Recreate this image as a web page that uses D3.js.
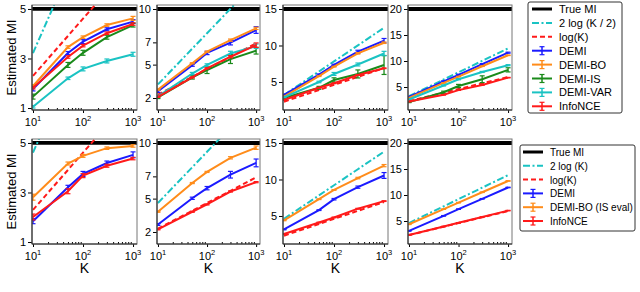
<!DOCTYPE html>
<html><head><meta charset="utf-8">
<script src="https://cdn.jsdelivr.net/npm/d3@7"></script>
<style>
body{margin:0;background:#fff}
svg{display:block}
text{font-family:"Liberation Sans",Arial,Helvetica,sans-serif;fill:#000}
</style>
</head><body>
<svg id="c" width="640" height="292"></svg>
<script>
// ---------------- DATA ----------------
const K = [10, 50, 100, 300, 1000];
const xMajorTicks = [10, 100, 1000];
const xMinorTicks = [20,30,40,50,60,70,80,90,200,300,400,500,600,700,800,900];
const trueMI = [5, 10, 15, 20];
const yTickValues = [[1,3,5],[2,5,7,10],[5,10,15],[5,10,15,20]];
const yDomains = [[0.92,5.16],[0.92,10.36],[1.16,15.55],[0.58,20.77]];

const bound2logKhalf = [3.22, 6.44, 7.82, 10.02, 12.43];
const boundLogK      = [2.30, 3.91, 4.61, 5.70, 6.91];
const bound2logK     = [4.61, 7.82, 9.21, 11.41, 13.82];

// top row (one list per panel)
const topDEMI = [
  [1.77, 3.22, 3.68, 4.18, 4.49],
  [2.60, 4.95, 6.05, 6.97, 8.11],
  [3.22, 6.00, 7.33, 9.15, 10.66],
  [3.10, 6.10, 7.35, 9.40, 11.60]];
const topDEMIBO = [
  [1.89, 3.46, 3.86, 4.35, 4.62],
  [2.75, 5.12, 6.16, 7.20, 8.26],
  [3.00, 5.80, 7.10, 8.93, 10.38],
  [2.90, 5.80, 7.00, 9.00, 11.10]];
const topDEMIIS = [
  [1.46, 2.74, 3.23, 3.86, 4.35],
  [2.05, 3.85, 4.50, 5.50, 6.25],
  [2.80, 4.20, 5.27, 6.10, 7.33],
  [2.10, 4.00, 5.20, 6.50, 8.30]];
const topDEMIVAR = [
  [1.05, 2.20, 2.58, 2.90, 3.17],
  [2.15, 4.20, 4.97, 6.00, 6.65],
  [2.90, 5.00, 6.10, 7.40, 8.90],
  [2.60, 5.30, 6.50, 7.90, 9.20]];
const topInfoNCE = [
  [1.82, 3.06, 3.52, 4.02, 4.39],
  [2.10, 3.85, 4.67, 5.71, 6.75],
  [2.53, 4.20, 4.82, 5.96, 6.88],
  [2.20, 3.50, 4.40, 5.40, 6.80]];

const topErrDEMI    = [[0.08,0.06,0.08,0.06,0.08],[0.1,0.1,0.15,0.2,0.3],[0.1,0.1,0.1,0.2,0.3],[0.1,0.1,0.1,0.1,0.1]];
const topErrDEMIBO  = [[0.05,0.05,0.05,0.05,0.08],[0.05,0.05,0.05,0.1,0.1],[0.05,0.05,0.05,0.1,0.1],[0.05,0.05,0.05,0.05,0.05]];
const topErrDEMIIS  = [[0.1,0.1,0.1,0.08,0.08],[0.1,0.15,0.3,0.4,0.3],[0.1,0.2,0.3,0.55,1.3],[0.1,0.2,0.3,0.65,0.4]];
const topErrDEMIVAR = [[0.05,0.05,0.08,0.08,0.08],[0.05,0.1,0.1,0.2,0.2],[0.05,0.1,0.2,0.2,0.3],[0.05,0.1,0.1,0.1,0.1]];
const topErrInfoNCE = [[0.05,0.05,0.05,0.05,0.05],[0.05,0.05,0.05,0.1,0.2],[0.05,0.05,0.05,0.05,0.05],[0.05,0.05,0.05,0.05,0.05]];

// bottom row
const botDEMI = [
  [1.84, 3.21, 3.75, 4.19, 4.52],
  [2.67, 5.03, 5.94, 7.15, 8.21],
  [3.15, 5.80, 7.30, 8.95, 10.55],
  [3.10, 6.00, 7.28, 9.27, 11.45]];
const botDEMIBO = [
  [2.81, 4.17, 4.48, 4.79, 4.88],
  [3.82, 6.40, 7.40, 8.67, 9.58],
  [4.40, 7.30, 8.57, 10.20, 11.90],
  [4.37, 7.28, 8.53, 10.53, 12.70]];
const botInfoNCE = [
  [2.01, 3.05, 3.68, 4.08, 4.37],
  [2.24, 3.82, 4.48, 5.64, 6.48],
  [2.54, 4.10, 4.80, 6.00, 7.04],
  [2.30, 3.94, 4.65, 5.77, 7.00]];
const botErrDEMI     = [[0.1,0.08,0.1,0.08,0.12],[0.08,0.1,0.15,0.3,0.35],[0.05,0.05,0.1,0.15,0.4],[0.05,0.05,0.05,0.05,0.05]];
const botErrDEMIBO   = [[0.12,0.06,0.06,0.05,0.05],[0.05,0.05,0.05,0.1,0.15],[0.05,0.05,0.05,0.1,0.15],[0.05,0.05,0.05,0.05,0.05]];
const botErrInfoNCE  = [[0.12,0.1,0.08,0.06,0.05],[0.05,0.05,0.05,0.05,0.05],[0.05,0.05,0.05,0.05,0.05],[0.05,0.05,0.05,0.05,0.05]];

const topLegendLabels = ["True MI","2 log (K / 2)","log(K)","DEMI","DEMI-BO","DEMI-IS","DEMI-VAR","InfoNCE"];
const botLegendLabels = ["True MI","2 log (K)","log(K)","DEMI","DEMI-BO (IS eval)","InfoNCE"];

// ---------------- STYLE / LAYOUT ----------------
const C = {black:"#000", cyan:"#1ac3c3", red:"#ff1a1a", blue:"#1a1aff", orange:"#ff8c1a", green:"#1a8a1a"};
const panelX = [[32,137],[157,260],[283,388],[408,512]];
const rows = [[5,110],[139,244]];
const svg = d3.select("#c");

function styleAxis(g){
  g.selectAll("text").style("font-size","11px").attr("fill","#000");
  g.selectAll("line").attr("stroke","#000");
  g.select(".domain").remove();
}

function drawPanel(row, i, seriesDefs, boundDefs){
  const [x0,x1] = panelX[i], [y0,y1] = rows[row];
  const x = d3.scaleLog().domain([9.55,1200]).range([x0,x1]);
  const y = d3.scaleLinear().domain(yDomains[i]).range([y1,y0]);
  const id = `clip${row}${i}`;
  svg.append("clipPath").attr("id",id).append("rect")
    .attr("x",x0).attr("y",y0).attr("width",x1-x0).attr("height",y1-y0);
  const g = svg.append("g");

  const ya = g.append("g").attr("transform",`translate(${x0},0)`)
    .call(d3.axisLeft(y).tickValues(yTickValues[i]).tickSize(4).tickPadding(2).tickFormat(d3.format("d")));
  styleAxis(ya);
  const xa = g.append("g").attr("transform",`translate(0,${y1})`)
    .call(d3.axisBottom(x).tickValues(xMajorTicks).tickSize(3).tickFormat(""));
  styleAxis(xa);
  const xm = g.append("g").attr("transform",`translate(0,${y1})`)
    .call(d3.axisBottom(x).tickValues(xMinorTicks).tickSize(-2).tickFormat(""));
  styleAxis(xm);
  xMajorTicks.forEach(v=>{
    const t = g.append("text").attr("x",x(v)).attr("y",y1+16).attr("text-anchor","middle").style("font-size","11px");
    t.append("tspan").text("10");
    t.append("tspan").attr("dy",-5).style("font-size","7.5px").text(String(Math.round(Math.log10(v))));
  });

  const pg = g.append("g").attr("clip-path",`url(#${id})`);
  pg.append("line").attr("x1",x0).attr("x2",x1).attr("y1",y(trueMI[i])).attr("y2",y(trueMI[i]))
    .attr("stroke",C.black).attr("stroke-width",3.8);
  const line = d3.line().x((d,j)=>x(K[j])).y(d=>y(d));
  boundDefs.forEach(b=>{
    pg.append("path").attr("d",line(b.data)).attr("fill","none").attr("stroke",b.color)
      .attr("stroke-width",2).attr("stroke-dasharray",b.dash);
  });
  seriesDefs.forEach(s=>{
    const vals = s.data[i], errs = s.err[i];
    pg.append("path").attr("d",line(vals)).attr("fill","none").attr("stroke",s.color).attr("stroke-width",2);
    vals.forEach((v,j)=>{
      const cx = x(K[j]), ya_ = y(v-errs[j]), yb = y(v+errs[j]);
      pg.append("line").attr("x1",cx).attr("x2",cx).attr("y1",ya_).attr("y2",yb).attr("stroke",s.color).attr("stroke-width",1.3);
      [ya_,yb].forEach(yy=>pg.append("line").attr("x1",cx-2.5).attr("x2",cx+2.5).attr("y1",yy).attr("y2",yy).attr("stroke",s.color).attr("stroke-width",1.2));
    });
  });
  g.append("rect").attr("x",x0).attr("y",y0).attr("width",x1-x0).attr("height",y1-y0)
    .attr("fill","none").attr("stroke","#777").attr("stroke-width",1);
  g.append("line").attr("x1",x0).attr("x2",x0).attr("y1",y0).attr("y2",y1).attr("stroke","#222");
  g.append("line").attr("x1",x0).attr("x2",x1).attr("y1",y1).attr("y2",y1).attr("stroke","#222");
}

const topSeries = [
  {data:topDEMI, err:topErrDEMI, color:C.blue},
  {data:topDEMIBO, err:topErrDEMIBO, color:C.orange},
  {data:topDEMIIS, err:topErrDEMIIS, color:C.green},
  {data:topDEMIVAR, err:topErrDEMIVAR, color:C.cyan},
  {data:topInfoNCE, err:topErrInfoNCE, color:C.red}];
const botSeries = [
  {data:botDEMI, err:botErrDEMI, color:C.blue},
  {data:botDEMIBO, err:botErrDEMIBO, color:C.orange},
  {data:botInfoNCE, err:botErrInfoNCE, color:C.red}];
const topBounds = [
  {data:bound2logKhalf, color:C.cyan, dash:"7,2.5,2,2.5"},
  {data:boundLogK, color:C.red, dash:"5,3"}];
const botBounds = [
  {data:bound2logK, color:C.cyan, dash:"7,2.5,2,2.5"},
  {data:boundLogK, color:C.red, dash:"5,3"}];

for(let i=0;i<4;i++){ drawPanel(0,i,topSeries,topBounds); drawPanel(1,i,botSeries,botBounds); }

rows.forEach(r=>{
  svg.append("text").attr("transform",`translate(16,${(r[0]+r[1])/2}) rotate(-90)`)
    .attr("text-anchor","middle").style("font-size","13px").text("Estimated MI");
});
panelX.forEach(p=>{
  svg.append("text").attr("x",(p[0]+p[1])/2).attr("y",273).attr("text-anchor","middle").style("font-size","14px").text("K");
});

function legend(x0,y0,w,h,labels,styles,lx,tx,dy,fs){
  const g = svg.append("g");
  g.append("rect").attr("x",x0).attr("y",y0).attr("width",w).attr("height",h).attr("rx",2)
    .attr("fill","#fff").attr("stroke","#333").attr("stroke-width",1);
  labels.forEach((lab,k)=>{
    const yy = y0+7+dy*k;
    const s = styles[k];
    g.append("line").attr("x1",lx).attr("x2",lx+20).attr("y1",yy).attr("y2",yy)
      .attr("stroke",s.color).attr("stroke-width",s.w||2).attr("stroke-dasharray",s.dash||null);
    if(s.err){
      const cx = lx+10;
      g.append("line").attr("x1",cx).attr("x2",cx).attr("y1",yy-4).attr("y2",yy+4).attr("stroke",s.color).attr("stroke-width",1.5);
      [yy-4,yy+4].forEach(v=>g.append("line").attr("x1",cx-2.5).attr("x2",cx+2.5).attr("y1",v).attr("y2",v).attr("stroke",s.color).attr("stroke-width",1.2));
    }
    g.append("text").attr("x",tx).attr("y",yy+4).style("font-size",fs+"px").text(lab);
  });
}
legend(528,2,94,111,topLegendLabels,[
  {color:C.black,w:3},{color:C.cyan,dash:"7,2.5,2,2.5"},{color:C.red,dash:"5,3"},
  {color:C.blue,err:1},{color:C.orange,err:1},{color:C.green,err:1},{color:C.cyan,err:1},{color:C.red,err:1}],
  532,559,13.9,11);
legend(520,145,115,86,botLegendLabels,[
  {color:C.black,w:3},{color:C.cyan,dash:"7,2.5,2,2.5"},{color:C.red,dash:"5,3"},
  {color:C.blue,err:1},{color:C.orange,err:1},{color:C.red,err:1}],
  523,550,13.8,10);
</script>
</body></html>
